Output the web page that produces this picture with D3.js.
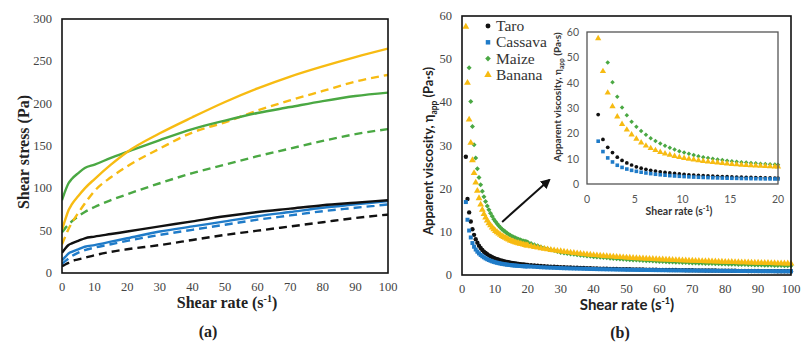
<!DOCTYPE html>
<meta charset="utf-8">
<style>
  body { margin: 0; background: #fff; }
  text { font-family: "Liberation Serif", "Times New Roman", serif; }
  text.sans { font-family: Lato, "Liberation Sans", sans-serif; }
</style>
<body>
<script src="https://d3js.org/d3.v7.min.js"></script>
<script>

// ---------- panel (a): shear stress vs shear rate ----------
var rateA = [0, 1, 2, 3, 5, 7, 10, 15, 20, 30, 40, 50, 60, 70, 80, 90, 100];
var taroUp      = [24, 29, 33, 35, 38, 41, 43, 46, 49, 55, 61, 67, 72, 76, 80, 83, 86];
var taroDown    = [8, 10, 12, 14, 16, 18, 21, 25, 28, 33, 39, 45, 50, 55, 60, 65, 69];
var cassavaUp   = [15, 19, 23, 25, 28, 31, 33, 37, 41, 49, 55, 61, 67, 72, 77, 81, 85];
var cassavaDown = [11, 14, 17, 20, 24, 27, 30, 34, 38, 45, 51, 57, 63, 68, 73, 77, 81];
var maizeUp     = [86, 97, 106, 111, 118, 124, 128, 136, 143, 157, 170, 180, 189, 196, 203, 209, 213];
var maizeDown   = [48, 53, 57, 61, 67, 72, 78, 86, 93, 106, 118, 128, 138, 147, 156, 164, 170];
var bananaUp    = [51, 63, 74, 81, 91, 100, 111, 128, 143, 165, 184, 202, 218, 232, 244, 255, 265];
var bananaDown  = [34, 43, 52, 59, 71, 82, 97, 113, 126, 147, 166, 178, 192, 204, 215, 226, 234];

var ticksA_x = [0, 10, 20, 30, 40, 50, 60, 70, 80, 90, 100];
var ticksA_y = [0, 50, 100, 150, 200, 250, 300];

// ---------- panel (b): apparent viscosity vs shear rate ----------
var rateB = [1.17, 1.67, 2.17, 2.67, 3.17, 3.67, 4.17, 4.67, 5.17, 5.67, 6.17, 6.67, 7.17, 7.67, 8.17, 8.67, 9.17, 9.67,
  10.17, 10.67, 11.17, 11.67, 12.17, 12.67, 13.17, 13.67, 14.17, 14.67, 15.17, 15.67, 16.17, 16.67, 17.17, 17.67, 18.17, 18.67, 19.17, 19.67,
  20, 21, 22, 23, 24, 25, 26, 27, 28, 29, 30, 31, 32, 33, 34, 35, 36, 37, 38, 39,
  40, 41, 42, 43, 44, 45, 46, 47, 48, 49, 50, 51, 52, 53, 54, 55, 56, 57, 58, 59,
  60, 61, 62, 63, 64, 65, 66, 67, 68, 69, 70, 71, 72, 73, 74, 75, 76, 77, 78, 79,
  80, 81, 82, 83, 84, 85, 86, 87, 88, 89, 90, 91, 92, 93, 94, 95, 96, 97, 98, 99, 100];

var taroVisc = [27.4, 17.6, 14.5, 12.4, 10.6, 9.3, 8.3, 7.5, 6.8, 6.25, 5.8, 5.4, 5.1, 4.8, 4.55, 4.35, 4.15, 3.95,
  3.8, 3.65, 3.52, 3.4, 3.3, 3.2, 3.1, 3.02, 2.94, 2.87, 2.8, 2.74, 2.68, 2.62, 2.57, 2.52, 2.47, 2.43, 2.39, 2.35,
  2.35, 2.28, 2.22, 2.16, 2.10, 2.05, 2.00, 1.95, 1.91, 1.87, 1.83, 1.79, 1.76, 1.73, 1.70, 1.67, 1.64, 1.61, 1.58, 1.55,
  1.53, 1.51, 1.49, 1.47, 1.45, 1.43, 1.41, 1.39, 1.37, 1.36, 1.34, 1.32, 1.31, 1.29, 1.28, 1.27, 1.25, 1.24, 1.23, 1.21,
  1.20, 1.19, 1.18, 1.17, 1.16, 1.15, 1.13, 1.12, 1.11, 1.10, 1.09, 1.08, 1.07, 1.06, 1.05, 1.04, 1.04, 1.03, 1.02, 1.01,
  1.00, 0.99, 0.98, 0.98, 0.97, 0.96, 0.95, 0.94, 0.94, 0.93, 0.92, 0.91, 0.91, 0.90, 0.90, 0.89, 0.88, 0.88, 0.87, 0.87, 0.86];

var cassavaVisc = [16.9, 12.8, 10.3, 8.7, 7.4, 6.55, 5.9, 5.4, 5.0, 4.65, 4.35, 4.1, 3.85, 3.65, 3.47, 3.31, 3.17, 3.04,
  2.93, 2.83, 2.74, 2.66, 2.59, 2.52, 2.46, 2.40, 2.35, 2.30, 2.26, 2.22, 2.18, 2.15, 2.12, 2.09, 2.06, 2.03, 2.01, 1.99,
  2.00, 1.95, 1.90, 1.85, 1.80, 1.76, 1.72, 1.69, 1.66, 1.63, 1.60, 1.57, 1.55, 1.52, 1.50, 1.48, 1.46, 1.44, 1.42, 1.40,
  1.38, 1.36, 1.34, 1.33, 1.31, 1.30, 1.28, 1.27, 1.25, 1.24, 1.22, 1.21, 1.20, 1.19, 1.18, 1.17, 1.16, 1.15, 1.14, 1.13,
  1.12, 1.11, 1.10, 1.09, 1.08, 1.07, 1.07, 1.06, 1.05, 1.04, 1.03, 1.02, 1.02, 1.01, 1.00, 0.99, 0.99, 0.98, 0.97, 0.97,
  0.96, 0.95, 0.95, 0.94, 0.93, 0.93, 0.92, 0.92, 0.91, 0.91, 0.90, 0.89, 0.89, 0.88, 0.88, 0.87, 0.87, 0.86, 0.86, 0.85, 0.85];

var maizeVisc = [null, null, 48.0, 40.2, 34.4, 30.2, 27.1, 24.6, 22.6, 20.9, 19.4, 18.1, 17.0, 16.0, 15.1, 14.3, 13.6, 12.9,
  12.4, 11.9, 11.4, 11.0, 10.6, 10.3, 10.0, 9.7, 9.45, 9.2, 9.0, 8.8, 8.6, 8.45, 8.3, 8.15, 8.0, 7.9, 7.8, 7.7,
  7.60, 7.30, 7.02, 6.76, 6.51, 6.28, 6.06, 5.85, 5.65, 5.44, 5.23, 5.11, 5.00, 4.89, 4.79, 4.69, 4.60, 4.51, 4.42, 4.33,
  4.25, 4.18, 4.11, 4.04, 3.97, 3.90, 3.84, 3.78, 3.72, 3.66, 3.60, 3.55, 3.50, 3.45, 3.41, 3.36, 3.32, 3.28, 3.23, 3.19,
  3.15, 3.11, 3.07, 3.04, 3.00, 2.97, 2.93, 2.90, 2.87, 2.83, 2.80, 2.77, 2.74, 2.71, 2.69, 2.66, 2.64, 2.61, 2.59, 2.56,
  2.54, 2.52, 2.49, 2.47, 2.45, 2.43, 2.41, 2.38, 2.36, 2.34, 2.32, 2.30, 2.28, 2.26, 2.24, 2.22, 2.20, 2.18, 2.17, 2.15, 2.13];

var bananaVisc = [57.5, 44.5, 36.0, 30.6, 26.6, 23.6, 21.4, 19.5, 17.8, 16.3, 15.1, 14.1, 13.3, 12.6, 12.0, 11.5, 11.0, 10.6,
  10.2, 9.9, 9.6, 9.3, 9.05, 8.8, 8.6, 8.4, 8.2, 8.0, 7.85, 7.7, 7.55, 7.45, 7.35, 7.25, 7.15, 7.05, 6.95, 6.85,
  6.83, 6.66, 6.50, 6.35, 6.20, 6.06, 5.93, 5.81, 5.70, 5.60, 5.50, 5.40, 5.30, 5.20, 5.11, 5.02, 4.93, 4.84, 4.76, 4.68,
  4.60, 4.54, 4.48, 4.42, 4.36, 4.31, 4.25, 4.19, 4.14, 4.09, 4.04, 3.99, 3.95, 3.90, 3.86, 3.82, 3.78, 3.74, 3.70, 3.66,
  3.63, 3.59, 3.56, 3.53, 3.49, 3.46, 3.43, 3.40, 3.37, 3.34, 3.31, 3.28, 3.26, 3.23, 3.20, 3.18, 3.15, 3.13, 3.10, 3.08,
  3.05, 3.03, 3.01, 2.98, 2.96, 2.94, 2.92, 2.90, 2.87, 2.85, 2.83, 2.81, 2.79, 2.77, 2.75, 2.73, 2.71, 2.70, 2.68, 2.66, 2.64];

var sampleNames = ["Taro", "Cassava", "Maize", "Banana"];
var ticksB_x = [0, 10, 20, 30, 40, 50, 60, 70, 80, 90, 100];
var ticksB_y = [0, 10, 20, 30, 40, 50, 60];
var ticksIn_x = [0, 5, 10, 15, 20];
var ticksIn_y = [0, 10, 20, 30, 40, 50, 60];

var SERIF = "'Liberation Serif', 'Times New Roman', serif";
var SANS = "Lato, 'Liberation Sans', sans-serif";

var colors = { Taro: "#111111", Cassava: "#1f7bc8", Maize: "#4aa843", Banana: "#f7bb12" };
var symbols = { Taro: d3.symbolCircle, Cassava: d3.symbolSquare,
                Maize: d3.symbolDiamond2 || d3.symbolDiamond, Banana: d3.symbolTriangle };

var svg = d3.select("body").append("svg")
    .attr("width", 807)
    .attr("height", 345)
    .style("display", "block");

svg.append("rect").attr("width", 807).attr("height", 345).attr("fill", "#fff");

// ======================= panel (a) =======================
var xa = d3.scaleLinear().domain([0, 100]).range([62, 388]);
var ya = d3.scaleLinear().domain([0, 300]).range([273, 19]);

var line_a = d3.line()
    .x(function (d) { return xa(d.x); })
    .y(function (d) { return ya(d.y); })
    .curve(d3.curveMonotoneX);

var seriesA = [
  { name: "Taro", vals: taroDown, dash: true },
  { name: "Cassava", vals: cassavaDown, dash: true },
  { name: "Maize", vals: maizeDown, dash: true },
  { name: "Banana", vals: bananaDown, dash: true },
  { name: "Cassava", vals: cassavaUp, dash: false },
  { name: "Taro", vals: taroUp, dash: false },
  { name: "Maize", vals: maizeUp, dash: false },
  { name: "Banana", vals: bananaUp, dash: false }
];

svg.append("clipPath").attr("id", "clipA")
  .append("rect").attr("x", 62).attr("y", 19).attr("width", 326).attr("height", 254);

svg.append("g").attr("clip-path", "url(#clipA)")
  .selectAll("path")
  .data(seriesA)
  .enter().append("path")
    .attr("d", function (s) {
      return line_a(rateA.map(function (r, i) { return { x: r, y: s.vals[i] }; }));
    })
    .attr("fill", "none")
    .attr("stroke", function (s) { return colors[s.name]; })
    .attr("stroke-width", 2.4)
    .attr("stroke-dasharray", function (s) { return s.dash ? "8,5" : null; });

svg.append("rect")
    .attr("x", 62).attr("y", 19).attr("width", 326).attr("height", 254)
    .attr("fill", "none").attr("stroke", "#111").attr("stroke-width", 1.6);

svg.append("g").selectAll("text")
  .data(ticksA_x)
  .enter().append("text")
    .attr("font-family", SERIF)
    .attr("x", function (d) { return xa(d); })
    .attr("y", 291)
    .attr("text-anchor", "middle")
    .attr("font-size", 12.5)
    .attr("fill", "#444")
    .text(function (d) { return d; });

svg.append("g").selectAll("text")
  .data(ticksA_y)
  .enter().append("text")
    .attr("font-family", SERIF)
    .attr("x", 52)
    .attr("y", function (d) { return ya(d) + 4; })
    .attr("text-anchor", "end")
    .attr("font-size", 12.5)
    .attr("fill", "#444")
    .text(function (d) { return d; });

var tA = svg.append("text")
    .attr("font-family", SERIF)
    .attr("x", 227).attr("y", 308)
    .attr("text-anchor", "middle")
    .attr("font-size", 16).attr("font-weight", "bold").attr("fill", "#222");
tA.append("tspan").text("Shear rate (s");
tA.append("tspan").attr("font-size", 10).attr("dy", -6).text("-1");
tA.append("tspan").attr("dy", 6).text(")");

svg.append("text")
    .attr("font-family", SERIF)
    .attr("transform", "translate(29,152) rotate(-90)")
    .attr("text-anchor", "middle")
    .attr("font-size", 16).attr("font-weight", "bold").attr("fill", "#222")
    .text("Shear stress (Pa)");

svg.append("text")
    .attr("font-family", SERIF)
    .attr("x", 208).attr("y", 337)
    .attr("text-anchor", "middle")
    .attr("font-size", 16).attr("font-weight", "bold").attr("fill", "#222")
    .text("(a)");

// ======================= panel (b) =======================
var xb = d3.scaleLinear().domain([0, 100]).range([462, 791]);
var yb = d3.scaleLinear().domain([0, 60]).range([275, 16]);

var points = function (vals) {
  return rateB.map(function (r, i) { return { x: r, y: vals[i] }; })
    .filter(function (d) { return d.y != null; });
};

var seriesB = [
  { name: "Taro", vals: taroVisc },
  { name: "Cassava", vals: cassavaVisc },
  { name: "Maize", vals: maizeVisc },
  { name: "Banana", vals: bananaVisc }
];

var mainSize = { Taro: 15, Cassava: 16, Maize: 16, Banana: 20 };
var insetSize = { Taro: 11, Cassava: 13, Maize: 13, Banana: 17 };

var plotB = svg.append("g");
seriesB.forEach(function (s) {
  plotB.append("g").selectAll("path")
    .data(points(s.vals))
    .enter().append("path")
      .attr("transform", function (d) { return "translate(" + xb(d.x) + "," + yb(d.y) + ")"; })
      .attr("d", d3.symbol().type(symbols[s.name]).size(mainSize[s.name]))
      .attr("fill", colors[s.name]);
});

svg.append("rect")
    .attr("x", 462).attr("y", 16).attr("width", 329).attr("height", 259)
    .attr("fill", "none").attr("stroke", "#111").attr("stroke-width", 1.6);

svg.append("g").selectAll("text")
  .data(ticksB_x)
  .enter().append("text")
    .attr("font-family", SERIF)
    .attr("x", function (d) { return xb(d); })
    .attr("y", 293)
    .attr("text-anchor", "middle")
    .attr("font-size", 12.5)
    .attr("fill", "#444")
    .text(function (d) { return d; });

svg.append("g").selectAll("text")
  .data(ticksB_y)
  .enter().append("text")
    .attr("font-family", SERIF)
    .attr("x", 452)
    .attr("y", function (d) { return yb(d) + 4; })
    .attr("text-anchor", "end")
    .attr("font-size", 12.5)
    .attr("fill", "#444")
    .text(function (d) { return d; });

var tB = svg.append("text").attr("class", "sans")
    .attr("font-family", SANS)
    .attr("x", 627).attr("y", 310)
    .attr("text-anchor", "middle")
    .attr("font-size", 15).attr("font-weight", "bold").attr("fill", "#222");
tB.append("tspan").text("Shear rate (s");
tB.append("tspan").attr("font-size", 9).attr("dy", -6).text("-1");
tB.append("tspan").attr("dy", 6).text(")");

var yTitle = function (x, y, size, len) {
  var t = svg.append("text").attr("class", "sans")
      .attr("font-family", SANS)
      .attr("transform", "translate(" + x + "," + y + ") rotate(-90)")
      .attr("text-anchor", "middle")
      .attr("font-size", size).attr("font-weight", "bold").attr("fill", "#222");
  t.append("tspan").text("Apparent viscosity, η");
  t.append("tspan").attr("font-size", size * 0.65).attr("dy", size * 0.25).text("app");
  t.append("tspan").attr("dy", -size * 0.25).text(" (Pa·s)");
  if (len) { t.attr("textLength", len).attr("lengthAdjust", "spacingAndGlyphs"); }
  return t;
};
yTitle(433, 151, 14, 168);

svg.append("text")
    .attr("font-family", SERIF)
    .attr("x", 620).attr("y", 338)
    .attr("text-anchor", "middle")
    .attr("font-size", 16).attr("font-weight", "bold").attr("fill", "#222")
    .text("(b)");

// legend
var legend = svg.append("g").selectAll("g")
  .data(sampleNames)
  .enter().append("g")
    .attr("transform", function (d, i) { return "translate(488," + (26 + i * 16.3) + ")"; });
legend.append("path")
    .attr("d", function (d) { return d3.symbol().type(symbols[d]).size(mainSize[d] + 4)(); })
    .attr("fill", function (d) { return colors[d]; });
legend.append("text")
    .attr("font-family", SERIF)
    .attr("x", 8).attr("y", 5)
    .attr("font-size", 15.5).attr("fill", "#333")
    .text(function (d) { return d; });

// arrow
var defs = svg.append("defs");
defs.append("marker")
    .attr("id", "arrowhead")
    .attr("viewBox", "0 0 10 10")
    .attr("refX", 8).attr("refY", 5)
    .attr("markerWidth", 5).attr("markerHeight", 5)
    .attr("orient", "auto")
  .append("path").attr("d", "M0,0 L10,5 L0,10 z").attr("fill", "#111");

svg.append("line")
    .attr("x1", xb(12.2)).attr("y1", yb(12.3))
    .attr("x2", xb(26.5)).attr("y2", yb(22))
    .attr("stroke", "#111").attr("stroke-width", 2)
    .attr("marker-end", "url(#arrowhead)");

// ---------- inset ----------
var xi = d3.scaleLinear().domain([0, 20]).range([587, 778]);
var yi = d3.scaleLinear().domain([0, 60]).range([184, 32]);

svg.append("rect")
    .attr("x", 587).attr("y", 32).attr("width", 191).attr("height", 152)
    .attr("fill", "#fff");

var plotI = svg.append("g");
seriesB.forEach(function (s) {
  plotI.append("g").selectAll("path")
    .data(points(s.vals).filter(function (d) { return d.x <= 20; }))
    .enter().append("path")
      .attr("transform", function (d) { return "translate(" + xi(d.x) + "," + yi(d.y) + ")"; })
      .attr("d", d3.symbol().type(symbols[s.name]).size(insetSize[s.name]))
      .attr("fill", colors[s.name]);
});

svg.append("rect")
    .attr("x", 587).attr("y", 32).attr("width", 191).attr("height", 152)
    .attr("fill", "none").attr("stroke", "#555").attr("stroke-width", 1.3);

svg.append("g").selectAll("text")
  .data(ticksIn_x)
  .enter().append("text").attr("class", "sans")
    .attr("font-family", SANS)
    .attr("x", function (d) { return xi(d); })
    .attr("y", 203)
    .attr("text-anchor", "middle")
    .attr("font-size", 10.5)
    .attr("fill", "#555")
    .text(function (d) { return d; });

svg.append("g").selectAll("text")
  .data(ticksIn_y)
  .enter().append("text").attr("class", "sans")
    .attr("font-family", SANS)
    .attr("x", 579)
    .attr("y", function (d) { return yi(d) + 4; })
    .attr("text-anchor", "end")
    .attr("font-size", 10.5)
    .attr("fill", "#555")
    .text(function (d) { return d; });

var tI = svg.append("text").attr("class", "sans")
    .attr("font-family", SANS)
    .attr("x", 679).attr("y", 215)
    .attr("text-anchor", "middle")
    .attr("font-size", 10.5).attr("font-weight", "bold").attr("fill", "#333");
tI.append("tspan").text("Shear rate (s");
tI.append("tspan").attr("font-size", 7).attr("dy", -4).text("-1");
tI.append("tspan").attr("dy", 4).text(")");

yTitle(561, 97, 10).attr("fill", "#333");

</script>
</body>
